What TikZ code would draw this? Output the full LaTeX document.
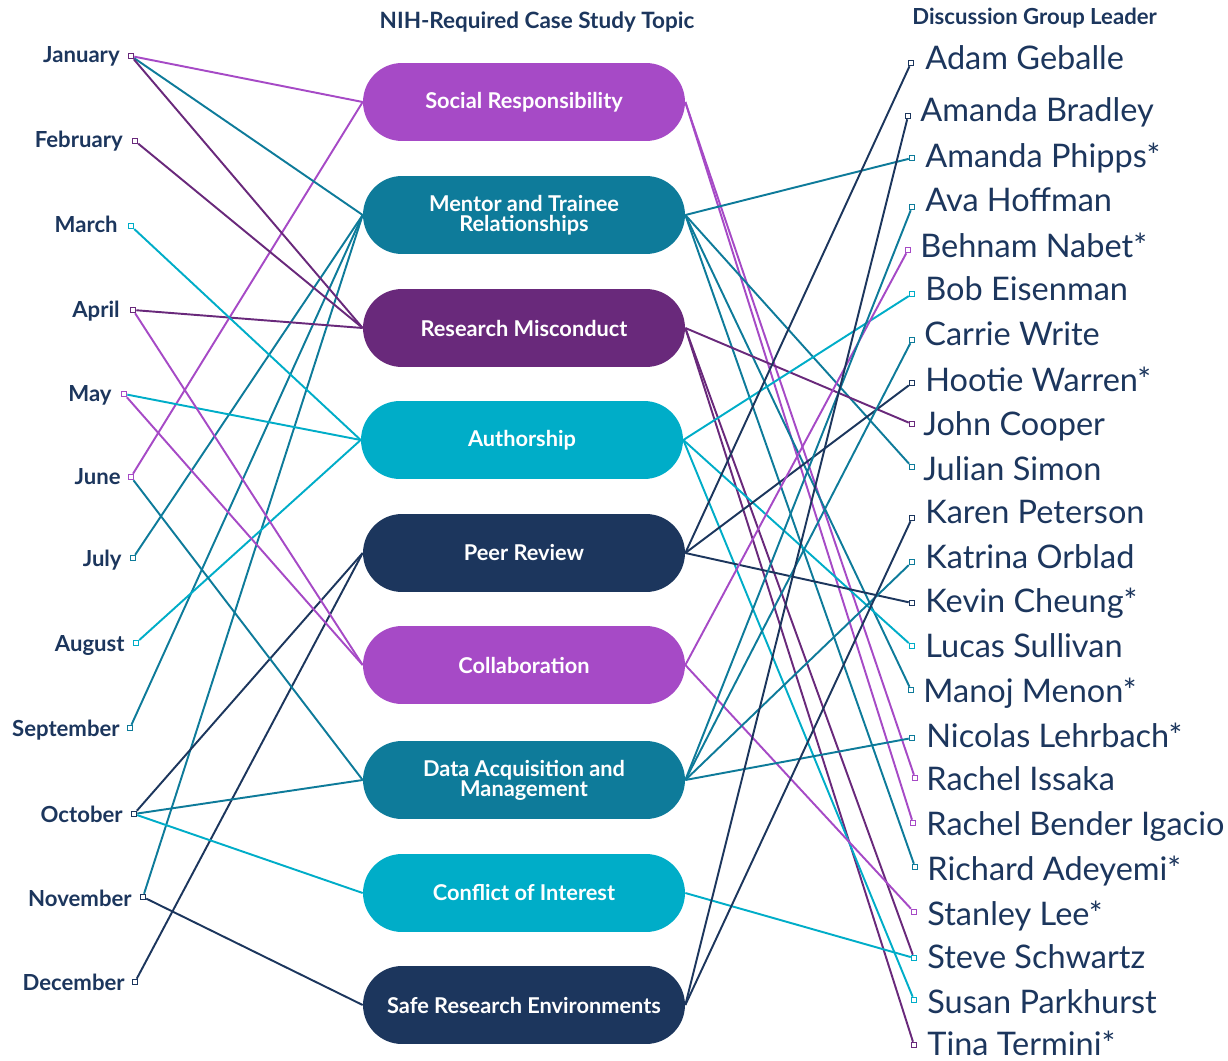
\documentclass[tikz,border=0pt]{standalone}
\usepackage{fontspec}
\setmainfont{Lato}
\usepackage{xcolor}

\definecolor{navy}{HTML}{1C365D}
\definecolor{lilac}{HTML}{A64AC6}
\definecolor{petrol}{HTML}{0E7B9A}
\definecolor{plum}{HTML}{69297B}
\definecolor{aqua}{HTML}{00ADC8}

\tikzset{
  topic/.style={fill=#1, rounded corners=0.78cm, minimum width=6.44cm,
    minimum height=1.56cm, text=white, align=center,
    font=\bfseries\fontsize{12.4}{11.5}\selectfont},
  month/.style={anchor=base east, inner sep=0pt, text=navy,
    font=\bfseries\fontsize{12.6}{14}\selectfont},
  leader/.style={anchor=base west, inner sep=0pt, text=navy,
    font=\fontsize{18.5}{20}\selectfont},
  endbox/.style={draw=#1, fill=white, line width=0.6pt, inner sep=0pt,
    minimum size=0.11cm},
  link/.style={draw=#1, line width=1.1pt},
}

\begin{document}
\begin{tikzpicture}[x=0.02cm, y=-0.02cm]
  \useasboundingbox (0,0) rectangle (1228,1061);

  % Headings
  \node[text=navy, font=\bfseries\fontsize{12.8}{14}\selectfont] (head-topic) at (537,22) {NIH-Required Case Study Topic};
  \node[anchor=west, inner sep=0pt, text=navy, font=\bfseries\fontsize{12.6}{14}\selectfont] (head-leader) at (912,18) {Discussion Group Leader};

  % Topics
  \node[topic=lilac]  (sr) at (524,102)  {Social Responsibility};
  \node[topic=petrol] (mt) at (524,215)  {Mentor and Trainee\\Relationships};
  \node[topic=plum]   (rm) at (524,328)  {Research Misconduct};
  \node[topic=aqua]   (au) at (522,440)  {Authorship};
  \node[topic=navy]   (pr) at (524,553)  {Peer Review};
  \node[topic=lilac]  (co) at (524,665)  {Collaboration};
  \node[topic=petrol] (da) at (524,780)  {Data Acquisition and\\Management};
  \node[topic=aqua]   (ci) at (524,893)  {Conflict of Interest};
  \node[topic=navy]   (sa) at (524,1005) {Safe Research Environments};

  % Months
  \node[month] (jan) at (120,63)  {January};   \node[endbox=plum]   (jan-p) at (131,56)  {};
  \node[month] (feb) at (123,148) {February};  \node[endbox=plum]   (feb-p) at (135,141) {};
  \node[month] (mar) at (118,233) {March};     \node[endbox=aqua]   (mar-p) at (131,226) {};
  \node[month] (apr) at (120,317) {April};     \node[endbox=plum]   (apr-p) at (133,310) {};
  \node[month] (may) at (112,401) {May};       \node[endbox=lilac]  (may-p) at (124,394) {};
  \node[month] (jun) at (121,484) {June};      \node[endbox=lilac]  (jun-p) at (131,477) {};
  \node[month] (jul) at (122,566) {July};      \node[endbox=petrol] (jul-p) at (133,558) {};
  \node[month] (aug) at (125,651) {August};    \node[endbox=aqua]   (aug-p) at (136,643) {};
  \node[month] (sep) at (120,736) {September}; \node[endbox=petrol] (sep-p) at (130,728) {};
  \node[month] (oct) at (123,822) {October};   \node[endbox=navy]   (oct-p) at (134,814) {};
  \node[month] (nov) at (132,906) {November};  \node[endbox=navy]   (nov-p) at (143,897) {};
  \node[month] (dec) at (125,990) {December};  \node[endbox=navy]   (dec-p) at (135,982) {};

  % Leaders
  \node[leader] (adam)    at (925,70)   {Adam Geballe};         \node[endbox=navy]   (adam-p)    at (911,63)   {};
  \node[leader] (amandab) at (920,122)  {Amanda Bradley};       \node[endbox=navy]   (amandab-p) at (908,116)  {};
  \node[leader] (amandap) at (925,168)  {Amanda Phipps*};       \node[endbox=petrol] (amandap-p) at (912,158)  {};
  \node[leader] (ava)     at (925,212)  {Ava Hoffman};          \node[endbox=petrol] (ava-p)     at (912,207)  {};
  \node[leader] (behnam)  at (920,257)  {Behnam Nabet*};        \node[endbox=lilac]  (behnam-p)  at (908,250)  {};
  \node[leader] (bob)     at (925,300)  {Bob Eisenman};         \node[endbox=aqua]   (bob-p)     at (912,294)  {};
  \node[leader] (carrie)  at (924,345)  {Carrie Write};         \node[endbox=petrol] (carrie-p)  at (912,340)  {};
  \node[leader] (hootie)  at (925,391)  {Hootie Warren*};       \node[endbox=navy]   (hootie-p)  at (912,383)  {};
  \node[leader] (john)    at (923,435)  {John Cooper};          \node[endbox=plum]   (john-p)    at (912,424)  {};
  \node[leader] (julian)  at (923,480)  {Julian Simon};         \node[endbox=petrol] (julian-p)  at (912,467)  {};
  \node[leader] (karen)   at (925,523)  {Karen Peterson};       \node[endbox=navy]   (karen-p)   at (912,518)  {};
  \node[leader] (katrina) at (925,568)  {Katrina Orblad};       \node[endbox=petrol] (katrina-p) at (912,562)  {};
  \node[leader] (kevin)   at (925,612)  {Kevin Cheung*};        \node[endbox=navy]   (kevin-p)   at (912,603)  {};
  \node[leader] (lucas)   at (925,657)  {Lucas Sullivan};       \node[endbox=aqua]   (lucas-p)   at (912,646)  {};
  \node[leader] (manoj)   at (923,702)  {Manoj Menon*};         \node[endbox=petrol] (manoj-p)   at (911,690)  {};
  \node[leader] (nicolas) at (926,747)  {Nicolas Lehrbach*};    \node[endbox=petrol] (nicolas-p) at (912,738)  {};
  \node[leader] (rachi)   at (926,790)  {Rachel Issaka};        \node[endbox=lilac]  (rachi-p)   at (915,778)  {};
  \node[leader] (rachb)   at (926,835)  {Rachel Bender Igacio}; \node[endbox=lilac]  (rachb-p)   at (913,823)  {};
  \node[leader] (richard) at (927,880)  {Richard Adeyemi*};     \node[endbox=petrol] (richard-p) at (915,867)  {};
  \node[leader] (stanley) at (927,925)  {Stanley Lee*};         \node[endbox=lilac]  (stanley-p) at (914,912)  {};
  \node[leader] (steve)   at (927,968)  {Steve Schwartz};       \node[endbox=aqua]   (steve-p)   at (914,958)  {};
  \node[leader] (susan)   at (927,1013) {Susan Parkhurst};      \node[endbox=aqua]   (susan-p)   at (914,1000) {};
  \node[leader] (tina)    at (927,1055) {Tina Termini*};        \node[endbox=plum]   (tina-p)    at (914,1045) {};

  % Social Responsibility
  \draw[link=lilac] (jan-p) -- (sr.west);
  \draw[link=lilac] (jun-p) -- (sr.west);
  \draw[link=lilac] (sr.east) -- (rachi-p);
  \draw[link=lilac] (sr.east) -- (rachb-p);

  % Mentor and Trainee Relationships
  \draw[link=petrol] (jan-p) -- (mt.west);
  \draw[link=petrol] (jul-p) -- (mt.west);
  \draw[link=petrol] (sep-p) -- (mt.west);
  \draw[link=petrol] (nov-p) -- (mt.west);
  \draw[link=petrol] (mt.east) -- (amandap-p);
  \draw[link=petrol] (mt.east) -- (julian-p);
  \draw[link=petrol] (mt.east) -- (manoj-p);
  \draw[link=petrol] (mt.east) -- (richard-p);

  % Research Misconduct
  \draw[link=plum] (jan-p) -- (rm.west);
  \draw[link=plum] (feb-p) -- (rm.west);
  \draw[link=plum] (apr-p) -- (rm.west);
  \draw[link=plum] (rm.east) -- (john-p);
  \draw[link=plum] (rm.east) -- (steve-p);
  \draw[link=plum] (rm.east) -- (tina-p);

  % Authorship
  \draw[link=aqua] (mar-p) -- (au.west);
  \draw[link=aqua] (may-p) -- (au.west);
  \draw[link=aqua] (aug-p) -- (au.west);
  \draw[link=aqua] (au.east) -- (bob-p);
  \draw[link=aqua] (au.east) -- (lucas-p);
  \draw[link=aqua] (au.east) -- (susan-p);

  % Peer Review
  \draw[link=navy] (oct-p) -- (pr.west);
  \draw[link=navy] (dec-p) -- (pr.west);
  \draw[link=navy] (pr.east) -- (adam-p);
  \draw[link=navy] (pr.east) -- (hootie-p);
  \draw[link=navy] (pr.east) -- (kevin-p);

  % Collaboration
  \draw[link=lilac] (apr-p) -- (co.west);
  \draw[link=lilac] (may-p) -- (co.west);
  \draw[link=lilac] (co.east) -- (behnam-p);
  \draw[link=lilac] (co.east) -- (stanley-p);

  % Data Acquisition and Management
  \draw[link=petrol] (jun-p) -- (da.west);
  \draw[link=petrol] (oct-p) -- (da.west);
  \draw[link=petrol] (da.east) -- (ava-p);
  \draw[link=petrol] (da.east) -- (carrie-p);
  \draw[link=petrol] (da.east) -- (katrina-p);
  \draw[link=petrol] (da.east) -- (nicolas-p);

  % Conflict of Interest
  \draw[link=aqua] (oct-p) -- (ci.west);
  \draw[link=aqua] (ci.east) -- (steve-p);

  % Safe Research Environments
  \draw[link=navy] (nov-p) -- (sa.west);
  \draw[link=navy] (sa.east) -- (amandab-p);
  \draw[link=navy] (sa.east) -- (karen-p);
\end{tikzpicture}
\end{document}
